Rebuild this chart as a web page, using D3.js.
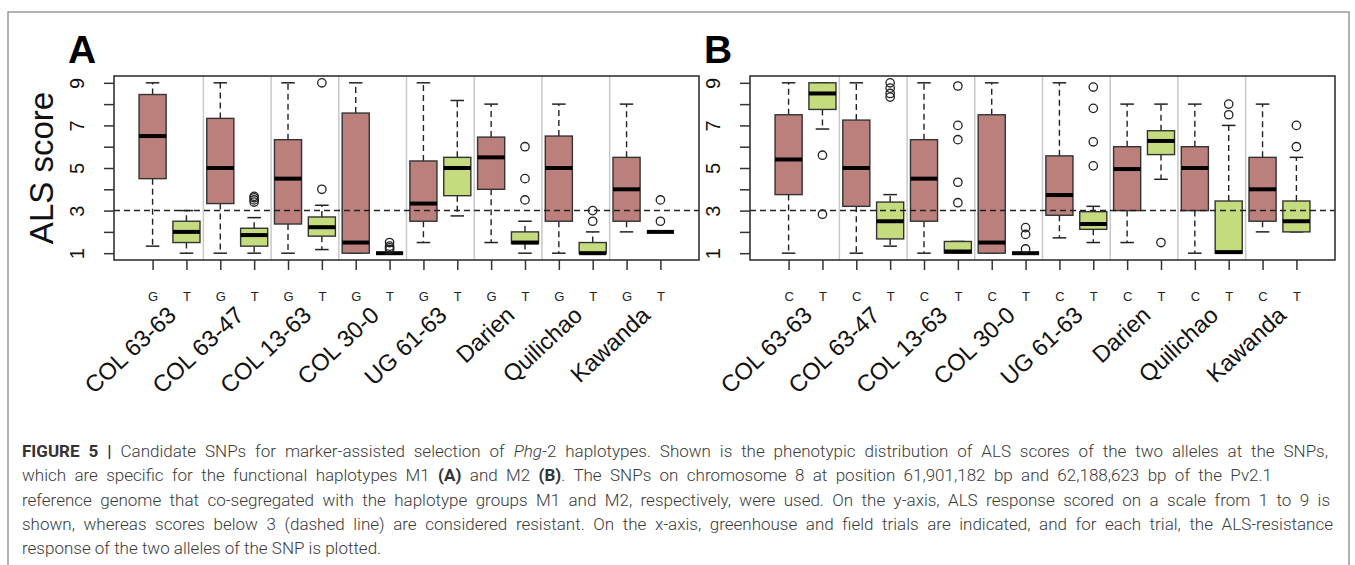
<!DOCTYPE html>
<html>
<head>
<meta charset="utf-8">
<script src="https://cdnjs.cloudflare.com/ajax/libs/d3/7.8.5/d3.min.js"></script>
<style>
  body { margin: 0; background: #fff; }
  svg { display: block; }
</style>
</head>
<body>
<div id="corpo"></div>
<script>
// grupos (ensaios) e alelos
var grupos = ["COL 63-63", "COL 63-47", "COL 13-63", "COL 30-0", "UG 61-63", "Darien", "Quilichao", "Kawanda"];
var alelosA = ["G", "T"];
var alelosB = ["C", "T"];
var ticksY = [1, 2, 3, 4, 5, 6, 7, 8, 9];
var limiar = 3;

// [min, q1, mediana, q3, max] por caixa, na ordem G,T,G,T...
var statsA = [
  [1.33, 4.5, 6.5, 8.45, 9], [1, 1.5, 2, 2.5, 3],
  [1, 3.33, 5, 7.33, 9], [1, 1.33, 1.85, 2.17, 2.67],
  [1, 2.37, 4.5, 6.33, 9], [1.17, 1.8, 2.22, 2.7, 3.25],
  [1, 1, 1.5, 7.58, 9], [1, 1, 1, 1, 1],
  [1.5, 2.5, 3.33, 5.33, 9], [2.75, 3.7, 5, 5.5, 8.17],
  [1.5, 4, 5.5, 6.45, 8], [1, 1.45, 1.5, 2, 2.5],
  [1, 2.5, 5, 6.5, 8], [1, 1, 1, 1.5, 2],
  [2, 2.5, 4, 5.5, 8], [2, 2, 2, 2, 2]
];
var outA = [
  [], [],
  [], [3.4, 3.5, 3.6, 3.67],
  [], [4, 9],
  [], [1.17, 1.25, 1.33, 1.5],
  [], [],
  [], [3.5, 4.5, 6],
  [], [2.5, 3],
  [], [2.5, 3.5]
];

var statsB = [
  [1, 3.75, 5.4, 7.5, 9], [6.83, 7.75, 8.5, 9, 9],
  [1, 3.2, 5, 7.25, 9], [1.33, 1.67, 2.5, 3.4, 3.75],
  [1, 2.5, 4.5, 6.33, 9], [1, 1, 1.08, 1.55, 1.55],
  [1, 1, 1.5, 7.5, 9], [1, 1, 1, 1, 1],
  [1.72, 2.78, 3.73, 5.57, 9], [1.5, 2.12, 2.37, 2.95, 3.2],
  [1.5, 3, 4.95, 6, 8], [4.47, 5.63, 6.27, 6.75, 8],
  [1, 3, 5, 6, 8], [1, 1, 1.05, 3.45, 7],
  [2, 2.5, 4, 5.5, 8], [2, 2, 2.5, 3.45, 5.5]
];
var outB = [
  [], [2.83, 5.6],
  [], [8.33, 8.5, 8.75, 9],
  [], [3.37, 4.33, 6.33, 7, 8.85],
  [], [1.2, 1.88, 2.2],
  [], [5.1, 6.23, 7.8, 8.8],
  [], [1.5],
  [], [7.5, 8],
  [], [6, 7]
];

var legenda = [
  [["b", "FIGURE 5 | "], ["", "Candidate SNPs for marker-assisted selection of "], ["i", "Phg"], ["", "-2 haplotypes. Shown is the phenotypic distribution of ALS scores of the two alleles at the SNPs,"]],
  [["", "which are specific for the functional haplotypes M1 "], ["b", "(A)"], ["", " and M2 "], ["b", "(B)"], ["", ". The SNPs on chromosome 8 at position 61,901,182 bp and 62,188,623 bp of the Pv2.1"]],
  [["", "reference genome that co-segregated with the haplotype groups M1 and M2, respectively, were used. On the y-axis, ALS response scored on a scale from 1 to 9 is"]],
  [["", "shown, whereas scores below 3 (dashed line) are considered resistant. On the x-axis, greenhouse and field trials are indicated, and for each trial, the ALS-resistance"]],
  [["", "response of the two alleles of the SNP is plotted."]]
];
var larguraLinha = [1306, 1250, 1308, 1311, null];

var corG = "#bc807c", corT = "#c5dc7e";

var width = 1355, height = 565;
var svg = d3.select("#corpo").append("svg")
  .attr("width", width)
  .attr("height", height)
  .style("font-family", "'Liberation Sans', Arial, sans-serif");

svg.append("rect")
  .attr("x", 8).attr("y", 12)
  .attr("width", 1341).attr("height", 570)
  .attr("fill", "none").attr("stroke", "#8a8a8a").attr("stroke-width", 1.3);

function painel(cfg) {
  var x = d3.scaleLinear().domain([-0.14, 17.14]).range([cfg.x0, cfg.x1]);
  var y = d3.scaleLinear().domain([0.68, 9.32]).range([cfg.y1, cfg.y0]);
  var g = svg.append("g");

  // separadores verticais
  g.selectAll(".sep").data(d3.range(1, 8)).enter().append("line")
    .attr("x1", function(d) { return x(2 * d + 0.5); })
    .attr("x2", function(d) { return x(2 * d + 0.5); })
    .attr("y1", cfg.y0).attr("y2", cfg.y1)
    .attr("stroke", "#c8c8c8").attr("stroke-width", 1.5);

  var bw = 0.4, sw = 0.2;
  var caixa = g.selectAll(".caixa").data(cfg.stats).enter().append("g");

  caixa.each(function(s, i) {
    var el = d3.select(this), p = i + 1;
    el.append("line").attr("x1", x(p)).attr("x2", x(p))
      .attr("y1", y(s[3])).attr("y2", y(s[4]))
      .attr("stroke", "#222").attr("stroke-width", 1.4).attr("stroke-dasharray", "6,4");
    el.append("line").attr("x1", x(p)).attr("x2", x(p))
      .attr("y1", y(s[1])).attr("y2", y(s[0]))
      .attr("stroke", "#222").attr("stroke-width", 1.4).attr("stroke-dasharray", "6,4");
    [s[0], s[4]].forEach(function(v) {
      el.append("line").attr("x1", x(p - sw)).attr("x2", x(p + sw))
        .attr("y1", y(v)).attr("y2", y(v))
        .attr("stroke", "#222").attr("stroke-width", 1.5);
    });
    el.append("rect")
      .attr("x", x(p - bw)).attr("width", x(p + bw) - x(p - bw))
      .attr("y", y(s[3])).attr("height", y(s[1]) - y(s[3]))
      .attr("fill", i % 2 ? corT : corG)
      .attr("stroke", "#333").attr("stroke-width", 1.4);
    el.append("line").attr("x1", x(p - bw)).attr("x2", x(p + bw))
      .attr("y1", y(s[2])).attr("y2", y(s[2]))
      .attr("stroke", "#000").attr("stroke-width", 4);
    el.selectAll("circle").data(cfg.outs[i]).enter().append("circle")
      .attr("cx", x(p)).attr("cy", function(v) { return y(v); })
      .attr("r", 4.2).attr("fill", "none")
      .attr("stroke", "#222").attr("stroke-width", 1.3);
  });

  // linha de corte
  g.append("line")
    .attr("x1", cfg.x0).attr("x2", cfg.x1)
    .attr("y1", y(limiar)).attr("y2", y(limiar))
    .attr("stroke", "#222").attr("stroke-width", 1.5).attr("stroke-dasharray", "6,4");

  g.append("rect")
    .attr("x", cfg.x0).attr("y", cfg.y0)
    .attr("width", cfg.x1 - cfg.x0).attr("height", cfg.y1 - cfg.y0)
    .attr("fill", "none").attr("stroke", "#333").attr("stroke-width", 1.6);

  // eixo y
  var ay = g.append("g").attr("transform", "translate(" + cfg.x0 + ",0)")
    .call(d3.axisLeft(y).tickValues(ticksY).tickSize(10)
      .tickFormat(function(d) { return d % 2 ? d : ""; }));
  ay.select(".domain").remove();
  ay.selectAll(".tick line").attr("stroke", "#333").attr("stroke-width", 1.5);
  ay.selectAll(".tick text")
    .attr("x", null).attr("dy", null)
    .attr("transform", "translate(-30,0) rotate(-90)")
    .attr("text-anchor", "middle")
    .attr("font-size", 20).attr("font-family", "'Liberation Sans', Arial, sans-serif")
    .attr("fill", "#111");

  // eixo x
  var ax = g.append("g").attr("transform", "translate(0," + cfg.y1 + ")")
    .call(d3.axisBottom(x).tickValues(d3.range(1, 17)).tickSize(10).tickPadding(22)
      .tickFormat(function(d, i) { return cfg.alelos[i % 2]; }));
  ax.select(".domain").remove();
  ax.selectAll(".tick line").attr("stroke", "#333").attr("stroke-width", 1.5);
  ax.selectAll(".tick text")
    .attr("font-size", 13).attr("font-family", "'Liberation Sans', Arial, sans-serif")
    .attr("fill", "#222");

  g.selectAll(".grupo").data(grupos).enter().append("text")
    .attr("transform", function(d, i) {
      return "translate(" + (x(2 * i + 1.5) + 8) + ",317) rotate(-43)";
    })
    .attr("text-anchor", "end")
    .attr("font-size", 23.5)
    .attr("fill", "#111")
    .text(function(d) { return d; });

  g.append("text")
    .attr("x", cfg.x0 - 46).attr("y", 63)
    .attr("font-size", 39).attr("font-weight", "bold")
    .attr("fill", "#000")
    .text(cfg.letra);

  if (cfg.titulo) {
    g.append("text")
      .attr("transform", "translate(53," + ((cfg.y0 + cfg.y1) / 2) + ") rotate(-90)")
      .attr("text-anchor", "middle")
      .attr("font-size", 33)
      .attr("fill", "#111")
      .text(cfg.titulo);
  }
}

painel({ x0: 114, x1: 699, y0: 76, y1: 260, stats: statsA, outs: outA, alelos: alelosA, letra: "A", titulo: "ALS score" });
painel({ x0: 750, x1: 1335, y0: 76, y1: 260, stats: statsB, outs: outB, alelos: alelosB, letra: "B", titulo: null });

// legenda da figura: tamanho ajustado pela 1a linha, resto justificado
var cap = svg.append("g").attr("font-family", "Roboto, 'Liberation Sans', sans-serif")
  .attr("font-size", 16).attr("font-weight", 300).attr("fill", "#3a3a3a");
var linhas = legenda.map(function(linha, k) {
  var t = cap.append("text").attr("x", 22).attr("y", 457 + k * 24.3);
  var txt = "";
  linha.forEach(function(seg) {
    var ts = t.append("tspan").text(seg[1]);
    txt += seg[1];
    if (seg[0] == "b") ts.attr("font-weight", "bold").attr("fill", "#333");
    if (seg[0] == "i") ts.attr("font-style", "italic");
  });
  return { t: t, txt: txt };
});
var nat1 = linhas[0].t.node().getComputedTextLength();
var fs = Math.max(15.5, Math.min(17, 16 * larguraLinha[0] / nat1));
cap.attr("font-size", fs);
linhas.forEach(function(l, k) {
  if (!larguraLinha[k]) return;
  var nat = l.t.node().getComputedTextLength();
  var esp = (l.txt.match(/ /g) || []).length;
  l.t.attr("word-spacing", Math.max(0, (larguraLinha[k] - nat) / esp));
});
</script>
</body>
</html>
